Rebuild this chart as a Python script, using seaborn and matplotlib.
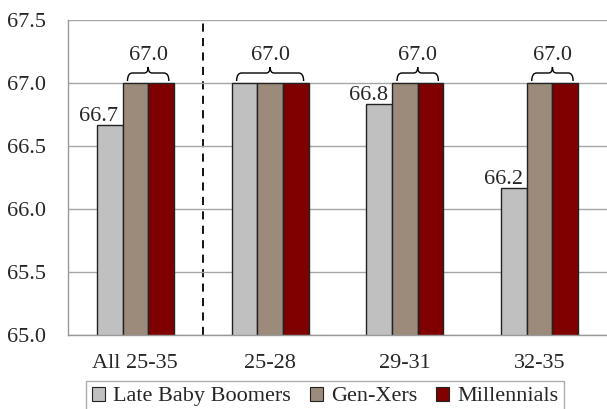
import numpy as np
import pandas as pd
import matplotlib
matplotlib.use("Agg")
import matplotlib.pyplot as plt
from matplotlib.path import Path
from matplotlib.patches import PathPatch, Patch
import seaborn as sns

categories = ["All 25-35", "25-28", "29-31", "32-35"]
series = ["Late Baby Boomers", "Gen-Xers", "Millennials"]
boomers = [66.67, 67.0, 66.83, 66.17]
genx = [67.0, 67.0, 67.0, 67.0]
millennials = [67.0, 67.0, 67.0, 67.0]
colors = ["#C0C0C0", "#9C8B7A", "#800000"]

sns.set_theme(style="white")
plt.rcParams["font.family"] = ["Liberation Serif", "DejaVu Serif"]

df = pd.DataFrame({
    "cat": categories * 3,
    "series": [s for s in series for _ in categories],
    "val": boomers + genx + millennials,
})

FS = 16
W, H = 607, 409
fig = plt.figure(figsize=(W / 100, H / 100), dpi=100)
ax_left, ax_right, ax_top, ax_bot = 68, 607, 20, 335
ax = fig.add_axes([ax_left / W, (H - ax_bot) / H, (ax_right - ax_left) / W, (ax_bot - ax_top) / H])

sns.barplot(data=df, x="cat", y="val", hue="series", palette=colors, width=0.57,
            saturation=1, edgecolor="#222222", linewidth=1.0, ax=ax, legend=False, gap=0)

ymin, ymax = 65.0, 67.5
ax.set_ylim(ymin, ymax)
group_px = 137.0
ax.set_xlim(-0.5, -0.5 + (ax_right - ax_left) / group_px)
yt = np.arange(65.0, 67.51, 0.5)
ax.set_yticks(yt)
ax.set_yticklabels([f"{v:.1f}" for v in yt], fontsize=FS)
ax.set_xticks(range(len(categories)))
ax.set_xticklabels(categories, fontsize=FS)
ax.set_xticks([0.5, 1.5, 2.5, 3.5], minor=True)
ax.tick_params(axis="x", which="major", length=0, pad=14)
ax.tick_params(axis="x", which="minor", length=6, color="#999999", width=1, direction="out")
ax.tick_params(axis="y", length=6, color="#999999", width=1, direction="out", pad=10)
ax.set_xlabel("")
ax.set_ylabel("")
ax.yaxis.grid(True, color="#A6A6A6", linewidth=1)
ax.set_axisbelow(True)
for s in ["top", "right"]:
    ax.spines[s].set_visible(False)
for s in ["left", "bottom"]:
    ax.spines[s].set_color("#999999")
    ax.spines[s].set_linewidth(1)

ax.axvline(0.5, color="black", linestyle=(0, (4.5, 3.5)), linewidth=1.3, zorder=0.5)

px_x = 1.0 / group_px
px_y = (ymax - ymin) / (ax_bot - ax_top)

patches = [p for p in ax.patches if p.get_height() > 0]
bars = {}
for p in patches:
    cx = p.get_x() + p.get_width() / 2
    g = int(round(cx))
    bars.setdefault(g, []).append(p)

for g, plist in bars.items():
    plist.sort(key=lambda p: p.get_x())
    vals = [p.get_height() for p in plist]
    top = max(vals)
    tops = [p for p in plist if abs(p.get_height() - top) < 1e-6]
    others = [p for p in plist if abs(p.get_height() - top) >= 1e-6]
    for p in others:
        ax.text(p.get_x() + p.get_width() / 2 - 11 * px_x, p.get_height() - 1 * px_y,
                f"{p.get_height():.1f}", ha="center", va="bottom", fontsize=FS)
    x0 = min(p.get_x() for p in tops) + 5 * px_x
    x1 = max(p.get_x() + p.get_width() for p in tops) - 5 * px_x
    xm = (x0 + x1) / 2
    yb = top + 2 * px_y
    yh = top + 10 * px_y
    yp = top + 16 * px_y
    r = 5 * px_x
    rm = 4 * px_x
    verts = [
        (x0, yb), (x0, yh), (x0 + r, yh),
        (xm - rm, yh),
        (xm, yh), (xm, yp),
        (xm, yh), (xm + rm, yh),
        (x1 - r, yh),
        (x1, yh), (x1, yb),
    ]
    codes = [Path.MOVETO, Path.CURVE3, Path.CURVE3,
             Path.LINETO,
             Path.CURVE3, Path.CURVE3,
             Path.CURVE3, Path.CURVE3,
             Path.LINETO,
             Path.CURVE3, Path.CURVE3]
    ax.add_patch(PathPatch(Path(verts, codes), facecolor="none", edgecolor="black",
                           linewidth=1.0, clip_on=False))
    ax.text(xm, top + 18 * px_y, f"{top:.1f}", ha="center", va="bottom", fontsize=FS)

handles = [Patch(facecolor=c, edgecolor="#222222", linewidth=0.8) for c in colors]
leg = fig.legend(handles, series, loc="upper center", bbox_to_anchor=(325 / W, 1 - 381 / H),
                 ncol=3, frameon=True, fancybox=False, edgecolor="#999999",
                 fontsize=FS, handlelength=0.6, handleheight=0.6, handletextpad=0.35,
                 columnspacing=0.85, borderpad=0.25, borderaxespad=0)
leg.get_frame().set_linewidth(1)

fig.savefig("out.png", dpi=100)
